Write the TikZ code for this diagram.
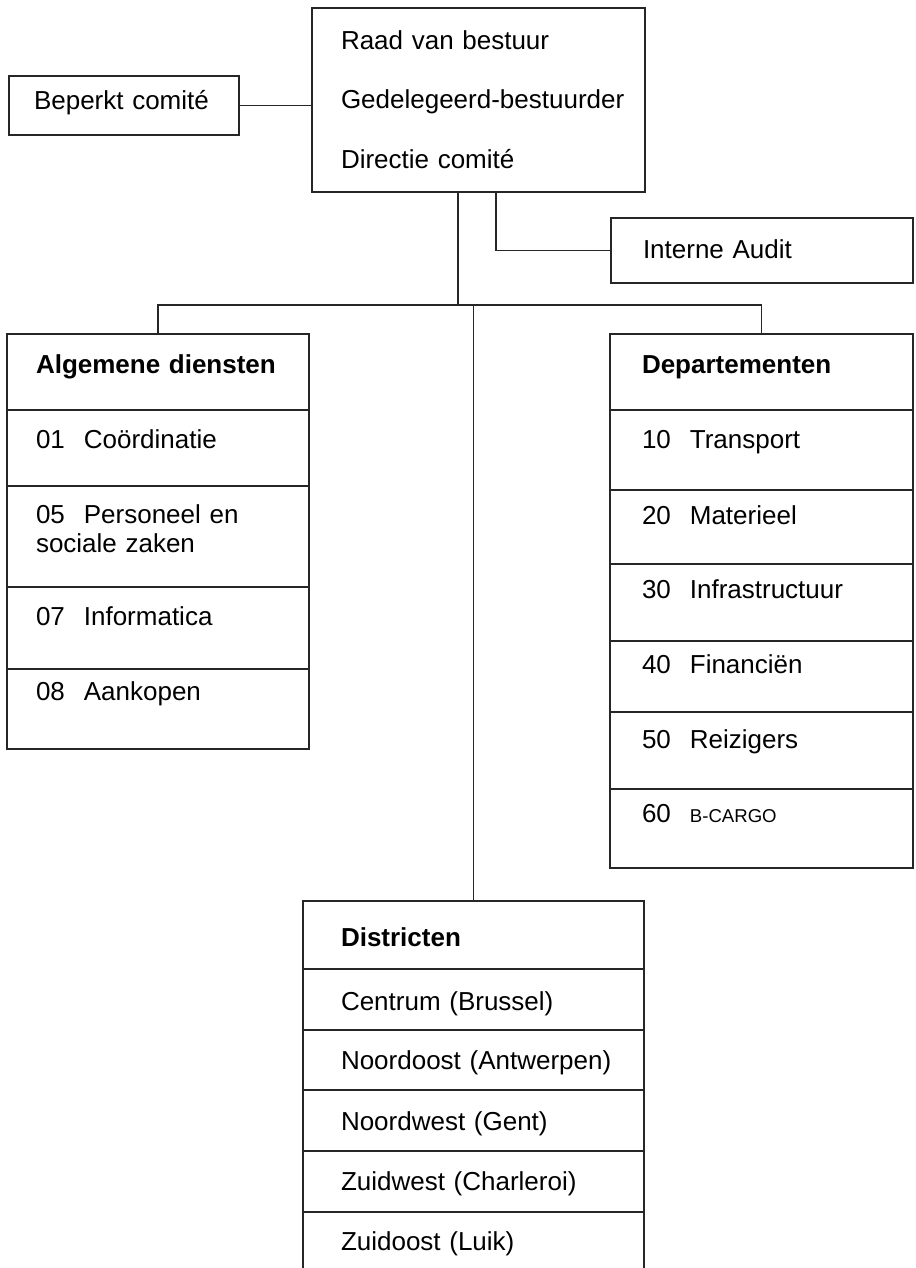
\documentclass[tikz,border=0pt]{standalone}
\usepackage{fontspec}
\setmainfont{Liberation Sans}
\usetikzlibrary{positioning}
\newcommand{\nrgap}{\hspace{0.73em}}

\begin{document}
\begin{tikzpicture}[x=0.5pt, y=-0.5pt,
    font=\fontsize{13}{14.5}\selectfont,
    lijn/.style={draw=black!85, line width=0.8pt},
    vak/.style={lijn, anchor=north west, align=left, inner ysep=0pt, outer sep=0pt},
    regel/.style 2 args={text height=#1, text depth=#2},
    algkol/.style={vak, text width=122pt, inner xsep=14.5pt},
    depkol/.style={vak, text width=119.5pt, inner xsep=16pt},
    diskol/.style={vak, text width=132.5pt, inner xsep=19pt}]
  \useasboundingbox (0,0) rectangle (915,1268);

  % Board and side boxes
  \node[vak, text width=137.5pt, inner xsep=14.5pt, regel={21pt}{71pt}] (rvb) at (312,8)
    {Raad van bestuur\\[15pt]\mbox{Gedelegeerd-bestuurder}\\[15pt]Directie comité};
  \node[vak, text width=90pt, inner xsep=12.5pt, regel={17pt}{12.5pt}] (beperkt) at (9,76) {Beperkt comité};
  \node[vak, text width=119pt, inner xsep=16pt, regel={20pt}{12.5pt}] (audit) at (611,218) {Interne Audit};

  % Algemene diensten
  \node[algkol, regel={19.5pt}{18.5pt}] (alg0) at (7,334) {\textbf{Algemene diensten}};
  \foreach \boven/\onder/\txt [count=\i, remember=\i as \j (initially 0)] in
    {19pt/19pt/01\nrgap Coördinatie, 18.5pt/32pt/05\nrgap Personeel en\\sociale zaken,
     19pt/22pt/07\nrgap Informatica, 15.5pt/24.5pt/08\nrgap Aankopen}
    \node[algkol, below=0pt of alg\j, regel={\boven}{\onder}] (alg\i) {\txt};

  % Departementen
  \node[depkol, regel={19.5pt}{18.5pt}] (dep0) at (610,334) {\textbf{Departementen}};
  \foreach \boven/\onder/\txt [count=\i, remember=\i as \j (initially 0)] in
    {19pt/21pt/10\nrgap Transport, 17pt/20pt/20\nrgap Materieel, 17pt/21.5pt/30\nrgap Infrastructuur,
     16pt/19.5pt/40\nrgap Financiën, 18pt/20.5pt/50\nrgap Reizigers,
     16.5pt/23pt/60\nrgap{\fontsize{9.3}{11}\selectfont B-CARGO}}
    \node[depkol, below=0pt of dep\j, regel={\boven}{\onder}] (dep\i) {\txt};

  % Districten
  \node[diskol, regel={22.5pt}{11.5pt}] (dis0) at (303,901) {\textbf{Districten}};
  \foreach \boven/\onder/\txt [count=\i, remember=\i as \j (initially 0)] in
    {20.5pt/10pt/Centrum (Brussel), 19.5pt/10.5pt/\mbox{Noordoost (Antwerpen)},
     20pt/10.5pt/Noordwest (Gent), 19.5pt/11pt/Zuidwest (Charleroi), 19pt/12.5pt/Zuidoost (Luik)}
    \node[diskol, below=0pt of dis\j, regel={\boven}{\onder}] (dis\i) {\txt};

  % Lines
  \coordinate (tak) at (458,305);
  \draw[lijn] (beperkt.east) -- (beperkt.east -| rvb.west);
  \draw[lijn] (rvb.south -| tak) -- (tak);
  \draw[lijn] ([xshift=8.75pt]rvb.south) |- (audit.west);
  \draw[lijn] (alg0.north) -- (alg0.north |- tak) -- (dep0.north |- tak) -- (dep0.north);
  \draw[lijn] (tak -| dis0.north) -- (dis0.north);
\end{tikzpicture}
\end{document}
